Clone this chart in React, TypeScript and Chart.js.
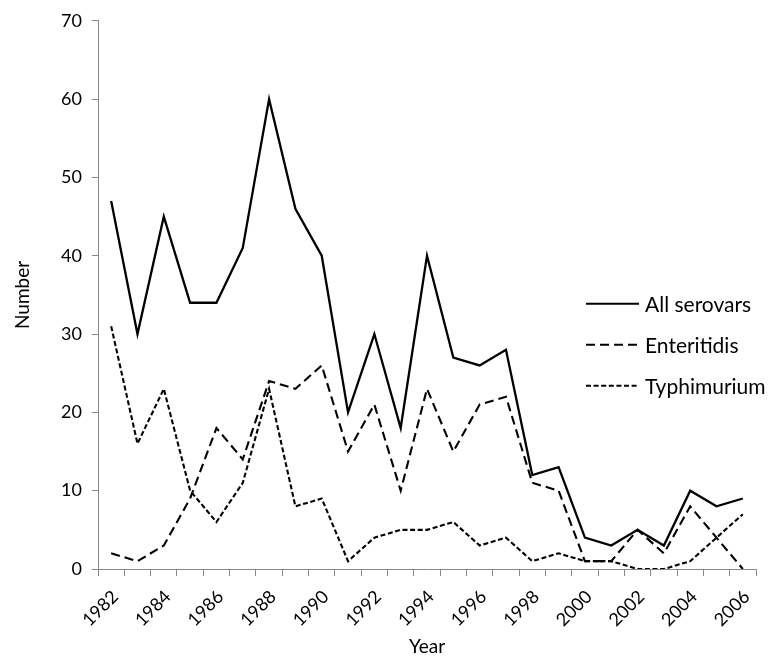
import React, { useEffect, useRef } from 'react';
import { Chart, registerables } from 'chart.js';

Chart.register(...registerables);

const years = [
  '1982', '1983', '1984', '1985', '1986', '1987', '1988', '1989', '1990', '1991',
  '1992', '1993', '1994', '1995', '1996', '1997', '1998', '1999', '2000', '2001',
  '2002', '2003', '2004', '2005', '2006',
];
const allSerovars = [47, 30, 45, 34, 34, 41, 60, 46, 40, 20, 30, 18, 40, 27, 26, 28, 12, 13, 4, 3, 5, 3, 10, 8, 9];
const enteritidis = [2, 1, 3, 9, 18, 14, 24, 23, 26, 15, 21, 10, 23, 15, 21, 22, 11, 10, 1, 1, 5, 2, 8, 4, 0];
const typhimurium = [31, 16, 23, 10, 6, 11, 23, 8, 9, 1, 4, 5, 5, 6, 3, 4, 1, 2, 1, 1, 0, 0, 1, 4, 7];
const seriesNames = ['All serovars', 'Enteritidis', 'Typhimurium'];
const yTitle = 'Number';
const xTitle = 'Year';

const FONT = 'Lato, "Open Sans", sans-serif';

const legendPlugin = {
  id: 'insideLegend',
  afterDraw(chart: any) {
    const { ctx, chartArea } = chart;
    const x0 = chartArea.right - 170;
    const x1 = chartArea.right - 117;
    const tx = chartArea.right - 111;
    chart.data.datasets.forEach((ds: any, i: number) => {
      const y = chartArea.top + 283 + i * 41;
      ctx.save();
      ctx.strokeStyle = '#000';
      ctx.lineWidth = 2;
      ctx.setLineDash(ds.borderDash || []);
      ctx.beginPath();
      ctx.moveTo(x0, y);
      ctx.lineTo(x1, y);
      ctx.stroke();
      ctx.setLineDash([]);
      ctx.fillStyle = '#000';
      ctx.font = `21px ${FONT}`;
      ctx.textBaseline = 'middle';
      ctx.textAlign = 'left';
      ctx.fillText(ds.label, tx, y + 1);
      ctx.restore();
    });
  },
};

export default function App() {
  const canvasRef = useRef<HTMLCanvasElement | null>(null);

  useEffect(() => {
    document.body.style.margin = '0';
    const canvas = canvasRef.current;
    if (!canvas) return;
    const chart = new Chart(canvas, {
      type: 'line',
      data: {
        labels: years,
        datasets: [
          {
            label: seriesNames[0],
            data: allSerovars,
            borderColor: '#000',
            borderWidth: 2.3,
            borderDash: [],
            pointRadius: 0,
            tension: 0,
            fill: false,
          },
          {
            label: seriesNames[1],
            data: enteritidis,
            borderColor: '#000',
            borderWidth: 2.1,
            borderDash: [9, 5],
            pointRadius: 0,
            tension: 0,
            fill: false,
          },
          {
            label: seriesNames[2],
            data: typhimurium,
            borderColor: '#000',
            borderWidth: 2.1,
            borderDash: [5, 2.6],
            pointRadius: 0,
            tension: 0,
            fill: false,
          },
        ],
      },
      options: {
        animation: false,
        responsive: false,
        maintainAspectRatio: false,
        layout: { padding: { top: 20, right: 15, left: 0, bottom: 0 } },
        plugins: {
          legend: { display: false },
          tooltip: { enabled: false },
        },
        scales: {
          x: {
            type: 'category',
            offset: true,
            grid: {
              offset: true,
              drawOnChartArea: false,
              drawTicks: true,
              tickLength: 7,
              color: '#888',
              lineWidth: 1,
            },
            border: { color: '#888', width: 1 },
            ticks: {
              autoSkip: false,
              maxRotation: 45,
              minRotation: 45,
              padding: 10,
              labelOffset: 4,
              color: '#000',
              font: { family: FONT, size: 18 },
              callback: (_v: any, i: number) => (i % 2 === 0 ? years[i] : ''),
            },
            title: {
              display: true,
              text: xTitle,
              color: '#000',
              font: { family: FONT, size: 19 },
              padding: { top: 0, bottom: 4 },
            },
            afterFit: (s: any) => {
              s.height = 93;
            },
          },
          y: {
            min: 0,
            max: 70,
            grid: {
              drawOnChartArea: false,
              drawTicks: true,
              tickLength: 6,
              color: '#888',
            },
            border: { color: '#888', width: 1 },
            ticks: {
              stepSize: 10,
              padding: 10,
              color: '#000',
              font: { family: FONT, size: 18 },
            },
            title: {
              display: true,
              text: yTitle,
              color: '#000',
              font: { family: FONT, size: 19 },
              padding: { top: 11, bottom: 0 },
            },
            afterFit: (s: any) => {
              s.width = 98;
            },
          },
        },
      } as any,
      plugins: [legendPlugin],
    });
    return () => chart.destroy();
  }, []);

  return (
    <div style={{ width: 771, height: 662 }}>
      <canvas ref={canvasRef} width={771} height={662} style={{ display: 'block' }} />
    </div>
  );
}
